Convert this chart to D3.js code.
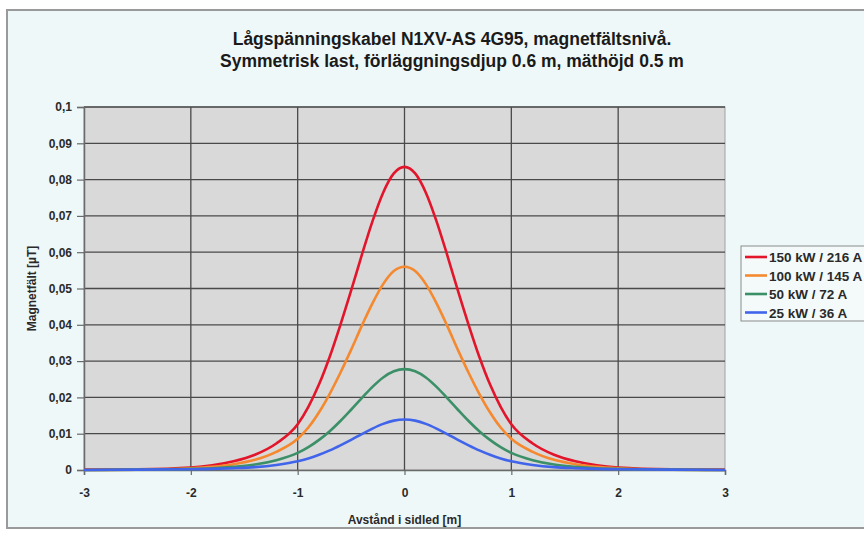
<!DOCTYPE html>
<html>
<head>
<meta charset="utf-8">
<script src="https://cdn.jsdelivr.net/npm/d3@7"></script>
<style>
  body { margin: 0; background: #fff; overflow: hidden; }
  text { font-family: "Liberation Sans", Arial, sans-serif; }
</style>
</head>
<body>
<div id="chart"></div>
<script>
// distance from cable [m]
const xVals = [-3, -2.5, -2, -1.8, -1.6, -1.4, -1.2, -1, -0.9, -0.8, -0.7, -0.6, -0.5, -0.4, -0.3, -0.2, -0.1,
               0, 0.1, 0.2, 0.3, 0.4, 0.5, 0.6, 0.7, 0.8, 0.9, 1, 1.2, 1.4, 1.6, 1.8, 2, 2.5, 3];
// magnetic field [uT] per load
const red150 = [0.0001, 0.0002, 0.0007, 0.0013, 0.0024, 0.0042, 0.0073, 0.0126, 0.0174, 0.0236, 0.0312, 0.0400, 0.0494, 0.0592, 0.0685, 0.0764, 0.0817,
                0.0835, 0.0817, 0.0764, 0.0685, 0.0592, 0.0494, 0.0400, 0.0312, 0.0236, 0.0174, 0.0126, 0.0073, 0.0042, 0.0024, 0.0013, 0.0007, 0.0002, 0.0001];
const orange100 = [0, 0.0001, 0.0005, 0.0009, 0.0016, 0.0028, 0.0050, 0.0086, 0.0117, 0.0159, 0.0210, 0.0268, 0.0331, 0.0397, 0.0459, 0.0512, 0.0548,
                   0.0560, 0.0548, 0.0512, 0.0459, 0.0397, 0.0331, 0.0268, 0.0210, 0.0159, 0.0117, 0.0086, 0.0050, 0.0028, 0.0016, 0.0009, 0.0005, 0.0001, 0];
const green50 = [0, 0.0001, 0.0003, 0.0005, 0.0009, 0.0015, 0.0027, 0.0047, 0.0063, 0.0083, 0.0107, 0.0135, 0.0166, 0.0198, 0.0229, 0.0255, 0.0272,
                 0.0278, 0.0272, 0.0255, 0.0229, 0.0198, 0.0166, 0.0135, 0.0107, 0.0083, 0.0063, 0.0047, 0.0027, 0.0015, 0.0009, 0.0005, 0.0003, 0.0001, 0];
const blue25 = [0, 0.0001, 0.0002, 0.0003, 0.0005, 0.0008, 0.0014, 0.0024, 0.0032, 0.0042, 0.0054, 0.0068, 0.0083, 0.0099, 0.0114, 0.0127, 0.0136,
                0.0139, 0.0136, 0.0127, 0.0114, 0.0099, 0.0083, 0.0068, 0.0054, 0.0042, 0.0032, 0.0024, 0.0014, 0.0008, 0.0005, 0.0003, 0.0002, 0.0001, 0];
const seriesNames = ["150 kW / 216 A", "100 kW / 145 A", "50 kW / 72 A", "25 kW / 36 A"];
const xTicks = [-3, -2, -1, 0, 1, 2, 3];
const yTicks = [0, 0.01, 0.02, 0.03, 0.04, 0.05, 0.06, 0.07, 0.08, 0.09, 0.1];

const series = [
  { name: seriesNames[0], values: red150, color: "#e3152b" },
  { name: seriesNames[1], values: orange100, color: "#f5892f" },
  { name: seriesNames[2], values: green50, color: "#3c9068" },
  { name: seriesNames[3], values: blue25, color: "#4064ea" }
];

const W = 864, H = 533;
const plot = { left: 84, right: 725, top: 107, bottom: 470 };
const FONT = "'Liberation Sans', Arial, sans-serif";

const svg = d3.select("#chart").append("svg")
  .attr("width", W).attr("height", H);

// chart frame
svg.append("rect")
  .attr("x", 7).attr("y", 10)
  .attr("width", W + 10).attr("height", 518)
  .attr("fill", "#eff8f8")
  .attr("stroke", "#9a9a9a")
  .attr("stroke-width", 2);

const x = d3.scaleLinear().domain([-3, 3]).range([plot.left, plot.right]);
const y = d3.scaleLinear().domain([0, 0.1]).range([plot.bottom, plot.top]);

// plot area
svg.append("rect")
  .attr("x", plot.left).attr("y", plot.top)
  .attr("width", plot.right - plot.left).attr("height", plot.bottom - plot.top)
  .attr("fill", "#d9d9d9")
  .attr("stroke", "#a0a0a0");

// grid
svg.append("g")
  .selectAll("line")
  .data(yTicks.slice(1))
  .join("line")
  .attr("x1", plot.left).attr("x2", plot.right)
  .attr("y1", d => y(d)).attr("y2", d => y(d))
  .attr("stroke", "#4a4a4a").attr("stroke-width", 1.3);

svg.append("g")
  .selectAll("line")
  .data(xTicks.slice(1, -1))
  .join("line")
  .attr("x1", d => x(d)).attr("x2", d => x(d))
  .attr("y1", plot.top).attr("y2", plot.bottom)
  .attr("stroke", "#4a4a4a").attr("stroke-width", 1.3);

const fmt = d => d === 0 ? "0" : String(+d.toFixed(2)).replace(".", ",");

const yAxis = svg.append("g")
  .attr("transform", `translate(${plot.left},0)`)
  .call(d3.axisLeft(y).tickValues(yTicks).tickFormat(fmt).tickSize(7).tickPadding(5));
const xAxis = svg.append("g")
  .attr("transform", `translate(0,${plot.bottom})`)
  .call(d3.axisBottom(x).tickValues(xTicks).tickFormat(d => d).tickSize(5).tickPadding(13));

[yAxis, xAxis].forEach(ax => {
  ax.select(".domain").attr("stroke", "#6a6a6a").attr("stroke-width", 1.5);
  ax.selectAll(".tick line").attr("stroke", "#6a6a6a").attr("stroke-width", 1.2);
  ax.selectAll(".tick text")
    .attr("fill", "#2a2a2a")
    .style("font", `bold 12px ${FONT}`);
});

// curves
const line = d3.line()
  .x((d, i) => x(xVals[i]))
  .y(d => y(d))
  .curve(d3.curveMonotoneX);

svg.append("g")
  .selectAll("path")
  .data(series)
  .join("path")
  .attr("d", d => line(d.values))
  .attr("fill", "none")
  .attr("stroke", d => d.color)
  .attr("stroke-width", 2.6);

// titles
svg.append("text")
  .attr("x", 452).attr("y", 45)
  .attr("text-anchor", "middle")
  .style("font", `bold 17.5px ${FONT}`)
  .attr("fill", "#1a1a1a")
  .text("Lågspänningskabel N1XV-AS 4G95, magnetfältsnivå.");
svg.append("text")
  .attr("x", 452).attr("y", 67)
  .attr("text-anchor", "middle")
  .style("font", `bold 17.5px ${FONT}`)
  .attr("fill", "#1a1a1a")
  .text("Symmetrisk last, förläggningsdjup 0.6 m, mäthöjd 0.5 m");

svg.append("text")
  .attr("x", (plot.left + plot.right) / 2).attr("y", 524)
  .attr("text-anchor", "middle")
  .style("font", `bold 12px ${FONT}`)
  .attr("fill", "#2a2a2a")
  .text("Avstånd i sidled [m]");

svg.append("text")
  .attr("transform", `translate(36,${(plot.top + plot.bottom) / 2}) rotate(-90)`)
  .attr("text-anchor", "middle")
  .style("font", `bold 12px ${FONT}`)
  .attr("fill", "#2a2a2a")
  .text("Magnetfält [µT]");

// legend
const legend = svg.append("g").attr("transform", "translate(741,246)");
legend.append("rect")
  .attr("x", 0).attr("y", 0)
  .attr("width", 140).attr("height", 75)
  .attr("fill", "#f4fafa")
  .attr("stroke", "#8a8a8a");
const items = legend.selectAll("g.item")
  .data(series)
  .join("g")
  .attr("class", "item")
  .attr("transform", (d, i) => `translate(0,${11 + i * 18.5})`);
items.append("line")
  .attr("x1", 4).attr("x2", 26)
  .attr("y1", 0).attr("y2", 0)
  .attr("stroke", d => d.color)
  .attr("stroke-width", 2.6);
items.append("text")
  .attr("x", 28).attr("y", 5)
  .style("font", `bold 13.5px ${FONT}`)
  .attr("fill", "#2a2a2a")
  .text(d => d.name);
</script>
</body>
</html>
